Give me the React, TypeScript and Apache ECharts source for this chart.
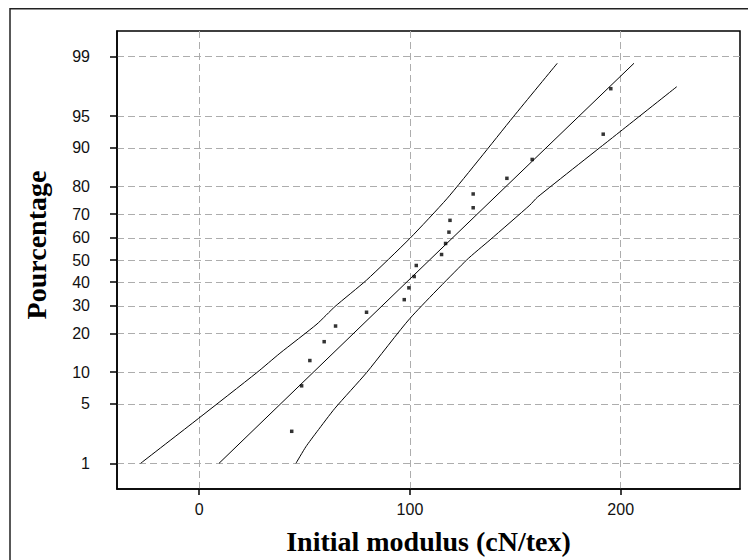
import React, { useEffect, useRef } from "react";
import * as echarts from "echarts";

// Probability-axis tick labels (percent) and x-axis ticks
const yTickPercents = [1, 5, 10, 20, 30, 40, 50, 60, 70, 80, 90, 95, 99];
const xTickValues = [0, 100, 200];

// Observed points: initial modulus (cN/tex) vs plotting percentage
const pointModulus = [43.9, 48.6, 52.5, 59.3, 64.7, 79.4, 97.3, 99.5, 102, 103, 115, 116.9, 118.5, 119, 130, 130, 146, 158, 191.7, 195.3];
const pointPercent = [2.5, 7.5, 12.5, 17.5, 22.5, 27.5, 32.5, 37.5, 42.5, 47.5, 52.5, 57.5, 62.5, 67.5, 72.5, 77.5, 82.5, 87.5, 92.5, 97.5];

// Fitted line
const fitModulus = [9.4, 109.3, 206.3];
const fitPercent = [1, 50, 98.78];

// Left (upper) confidence bound
const leftModulus = [-27.8, -0.3, 27.4, 38.3, 55.9, 64.4, 79.4, 100, 117.5, 133.3, 149.1, 169.9];
const leftPercent = [1, 3.5, 9.9, 14.3, 23.2, 29.7, 40.9, 59.8, 75.8, 87.8, 94.95, 98.78];

// Right (lower) confidence bound
const rightModulus = [45.9, 50.6, 55.9, 64.4, 79.4, 100, 126.9, 138, 156.9, 160.5, 199.7, 226.6];
const rightPercent = [1, 1.63, 2.48, 4.49, 9.87, 25.2, 50, 59.1, 73.5, 76.4, 92.9, 97.63];

// Inverse standard normal CDF (Acklam) – the probability-scale transform
function probit(p: number): number {
  const a = [-3.969683028665376e1, 2.209460984245205e2, -2.759285104469687e2, 1.38357751867269e2, -3.066479806614716e1, 2.506628277459239];
  const b = [-5.447609879822406e1, 1.615858368580409e2, -1.556989798598866e2, 6.680131188771972e1, -1.328068155288572e1];
  const c = [-7.784894002430293e-3, -3.223964580411365e-1, -2.400758277161838, -2.549732539343734, 4.374664141464968, 2.938163982698783];
  const d = [7.784695709041462e-3, 3.224671290700398e-1, 2.445134137142996, 3.754408661907416];
  const pl = 0.02425;
  if (p < pl) {
    const q = Math.sqrt(-2 * Math.log(p));
    return (((((c[0] * q + c[1]) * q + c[2]) * q + c[3]) * q + c[4]) * q + c[5]) / ((((d[0] * q + d[1]) * q + d[2]) * q + d[3]) * q + 1);
  }
  if (p > 1 - pl) {
    const q = Math.sqrt(-2 * Math.log(1 - p));
    return -(((((c[0] * q + c[1]) * q + c[2]) * q + c[3]) * q + c[4]) * q + c[5]) / ((((d[0] * q + d[1]) * q + d[2]) * q + d[3]) * q + 1);
  }
  const q = p - 0.5;
  const r = q * q;
  return ((((((a[0] * r + a[1]) * r + a[2]) * r + a[3]) * r + a[4]) * r + a[5]) * q) / (((((b[0] * r + b[1]) * r + b[2]) * r + b[3]) * r + b[4]) * r + 1);
}
const pz = (pct: number) => probit(pct / 100);

const yTickZ = yTickPercents.map(pz);
const pairs = (xs: number[], ps: number[]) => xs.map((x, i) => [x, pz(ps[i])]);

export default function App() {
  const ref = useRef<HTMLDivElement>(null);
  useEffect(() => {
    document.body.style.margin = "0";
    if (!ref.current) return;
    const chart = echarts.init(ref.current, undefined, { renderer: "svg" });
    const labelFont = { fontSize: 16, fontFamily: "Liberation Sans, Arial, sans-serif", color: "#111" };
    const split = { show: true, lineStyle: { type: [7, 4] as any, color: "#adadad", width: 1 } };
    const lineStyle = { color: "#000", width: 1 };
    chart.setOption({
      animation: false,
      backgroundColor: "#fff",
      grid: {
        left: 117, top: 31, right: 8, bottom: 71,
        show: true, borderColor: "#000", borderWidth: 1.5,
        containLabel: false, outerBoundsMode: "none",
      },
      xAxis: {
        type: "value", min: -39, max: 256.6,
        axisLine: { show: true, onZero: false, lineStyle: { color: "#000", width: 1.5 } },
        axisTick: { show: true, customValues: xTickValues, length: 6, lineStyle: { color: "#000", width: 1.5 } },
        axisLabel: { customValues: xTickValues, margin: 12, ...labelFont },
        splitLine: split,
      },
      yAxis: {
        type: "value", min: -2.62, max: 2.62,
        axisLine: { show: true, onZero: false, lineStyle: { color: "#000", width: 1.5 } },
        axisTick: { show: true, customValues: yTickZ, length: 7, lineStyle: { color: "#000", width: 1.5 } },
        axisLabel: {
          customValues: yTickZ, margin: 27, ...labelFont,
          formatter: (v: number) => {
            let best = 0;
            yTickZ.forEach((z, i) => { if (Math.abs(z - v) < Math.abs(yTickZ[best] - v)) best = i; });
            return String(yTickPercents[best]);
          },
        },
        splitLine: split,
      },
      graphic: [
        { type: "rect", silent: true, shape: { x: 10, y: 8.8, width: 760, height: 580 }, style: { fill: "none", stroke: "#222", lineWidth: 1.5 } },
        { type: "text", x: 428.5, y: 541, style: { text: "Initial modulus (cN/tex)", fontSize: 28, fontWeight: "bold", fontFamily: "Liberation Serif, Times New Roman, serif", fill: "#000", textAlign: "center", textVerticalAlign: "middle" } },
        { type: "text", x: 36, y: 245, rotation: Math.PI / 2, style: { text: "Pourcentage", fontSize: 28, fontWeight: "bold", fontFamily: "Liberation Serif, Times New Roman, serif", fill: "#000", textAlign: "center", textVerticalAlign: "middle" } },
      ],
      series: [
        { type: "line", data: pairs(leftModulus, leftPercent), showSymbol: false, symbol: "none", smooth: 0.2, lineStyle, silent: true },
        { type: "line", data: pairs(fitModulus, fitPercent), showSymbol: false, symbol: "none", lineStyle, silent: true },
        { type: "line", data: pairs(rightModulus, rightPercent), showSymbol: false, symbol: "none", smooth: 0.2, lineStyle, silent: true },
        { type: "scatter", data: pairs(pointModulus, pointPercent), symbol: "rect", symbolSize: 3.5, itemStyle: { color: "#000" }, silent: true },
      ],
    });
    return () => chart.dispose();
  }, []);
  return <div ref={ref} style={{ width: 748, height: 560, position: "absolute", left: 0, top: 0 }} />;
}
